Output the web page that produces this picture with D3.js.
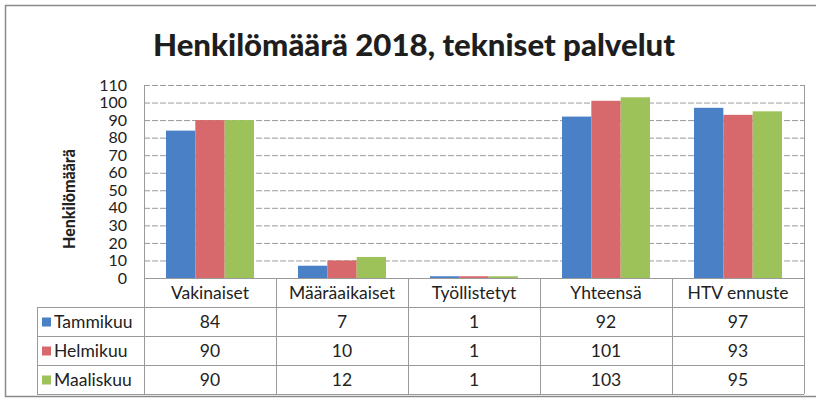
<!DOCTYPE html>
<html>
<head>
<meta charset="utf-8">
<script src="https://cdn.jsdelivr.net/npm/d3@7"></script>
<style>
  body { margin: 0; background: #fff; }
  svg { display: block; font-family: Lato, "Open Sans", sans-serif; }
</style>
</head>
<body>
<svg id="chart" width="816" height="401"></svg>
<script>
const categories = ['Vakinaiset', 'Määräaikaiset', 'Työllistetyt', 'Yhteensä', 'HTV ennuste'];
const seriesNames = ['Tammikuu', 'Helmikuu', 'Maaliskuu'];
const tammikuu = [84, 7, 1, 92, 97];
const helmikuu = [90, 10, 1, 101, 93];
const maaliskuu = [90, 12, 1, 103, 95];
const yTicks = [0, 10, 20, 30, 40, 50, 60, 70, 80, 90, 100, 110];
const colors = ['#4a80c6', '#d7686b', '#9ec25a'];

const series = [tammikuu, helmikuu, maaliskuu].map((values, i) => ({ name: seriesNames[i], values }));

const svg = d3.select('#chart');
const plot = { left: 144, right: 804, top: 85, bottom: 278 };
const tableLeft = 37;
const rowH = 29;

// outer frame
svg.append('rect')
    .attr('x', 5.5).attr('y', 5.5)
    .attr('width', 830).attr('height', 391)
    .attr('fill', 'none').attr('stroke', '#8a8a8a').attr('stroke-width', 1.5);

// title
svg.append('text')
    .attr('x', 414).attr('y', 56)
    .attr('text-anchor', 'middle')
    .attr('font-size', 31).attr('font-weight', 900).attr('fill', '#1e1e1e')
    .attr('textLength', 522).attr('lengthAdjust', 'spacingAndGlyphs')
    .text('Henkilömäärä 2018, tekniset palvelut');

const x = d3.scaleBand()
    .domain(categories)
    .range([plot.left, plot.right]);

const xInner = d3.scaleBand()
    .domain(seriesNames)
    .range([0, x.bandwidth()])
    .paddingOuter(0.75)
    .paddingInner(0);

const y = d3.scaleLinear()
    .domain([0, 110])
    .range([plot.bottom, plot.top]);

// gridlines
svg.append('g')
    .selectAll('line')
    .data(yTicks.slice(1))
    .join('line')
    .attr('x1', plot.left).attr('x2', plot.right)
    .attr('y1', d => y(d) + 0.5).attr('y2', d => y(d) + 0.5)
    .attr('stroke', '#9a9a9a').attr('stroke-width', 1)
    .attr('stroke-dasharray', '6,2');

// y axis labels
const yAxis = d3.axisLeft(y).tickValues(yTicks).tickSize(0).tickPadding(0);
const gy = svg.append('g')
    .attr('transform', `translate(${plot.left - 17},0)`)
    .call(yAxis);
gy.select('.domain').remove();
gy.selectAll('text')
    .attr('font-family', 'Lato, sans-serif')
    .attr('font-size', 16).attr('fill', '#222');

// plot left line
svg.append('line')
    .attr('x1', plot.left + 0.5).attr('x2', plot.left + 0.5)
    .attr('y1', plot.top).attr('y2', plot.bottom + rowH * 4)
    .attr('stroke', '#9a9a9a');

// y title
svg.append('text')
    .attr('transform', 'translate(75,199) rotate(-90)')
    .attr('text-anchor', 'middle')
    .attr('font-size', 16).attr('font-weight', 900).attr('fill', '#222')
    .text('Henkilömäärä');

// bars
svg.append('g')
    .selectAll('g')
    .data(series)
    .join('g')
    .attr('fill', (d, i) => colors[i])
    .selectAll('rect')
    .data(d => d.values.map((v, j) => ({ name: d.name, cat: categories[j], v })))
    .join('rect')
    .attr('x', d => x(d.cat) + xInner(d.name))
    .attr('width', xInner.bandwidth())
    .attr('y', d => y(d.v))
    .attr('height', d => y(0) - y(d.v));

// data table
const table = svg.append('g').attr('stroke', '#9a9a9a').attr('stroke-width', 1);
table.append('line')
    .attr('x1', plot.left).attr('x2', plot.right)
    .attr('y1', plot.bottom + 0.5).attr('y2', plot.bottom + 0.5);
d3.range(1, 5).forEach(r => {
    table.append('line')
        .attr('x1', tableLeft).attr('x2', plot.right)
        .attr('y1', plot.bottom + r * rowH + 0.5).attr('y2', plot.bottom + r * rowH + 0.5);
});
table.append('line')
    .attr('x1', tableLeft + 0.5).attr('x2', tableLeft + 0.5)
    .attr('y1', plot.bottom + rowH).attr('y2', plot.bottom + rowH * 4);
categories.forEach(c => {
    const cx = x(c) + x.bandwidth();
    table.append('line')
        .attr('x1', cx + 0.5).attr('x2', cx + 0.5)
        .attr('y1', c === categories[categories.length - 1] ? plot.top : plot.bottom)
        .attr('y2', plot.bottom + rowH * 4);
});

// header text
svg.append('g')
    .selectAll('text')
    .data(categories)
    .join('text')
    .attr('x', d => x(d) + x.bandwidth() / 2)
    .attr('y', plot.bottom + rowH / 2 + 6)
    .attr('text-anchor', 'middle')
    .attr('font-size', 17.5).attr('fill', '#222')
    .text(d => d);

// rows
const rows = svg.append('g')
    .selectAll('g')
    .data(series)
    .join('g')
    .attr('transform', (d, i) => `translate(0,${plot.bottom + rowH * (i + 1)})`);

rows.append('rect')
    .attr('x', 42).attr('y', rowH / 2 - 4)
    .attr('width', 9).attr('height', 9)
    .attr('fill', (d, i) => colors[i]);

rows.append('text')
    .attr('x', 54).attr('y', rowH / 2 + 6)
    .attr('font-size', 17.5).attr('fill', '#222')
    .text(d => d.name);

rows.selectAll('.val')
    .data(d => d.values.map((v, j) => ({ cat: categories[j], v })))
    .join('text')
    .attr('class', 'val')
    .attr('x', d => x(d.cat) + x.bandwidth() / 2)
    .attr('y', rowH / 2 + 6)
    .attr('text-anchor', 'middle')
    .attr('font-size', 17.5).attr('fill', '#222')
    .text(d => d.v);
</script>
</body>
</html>
